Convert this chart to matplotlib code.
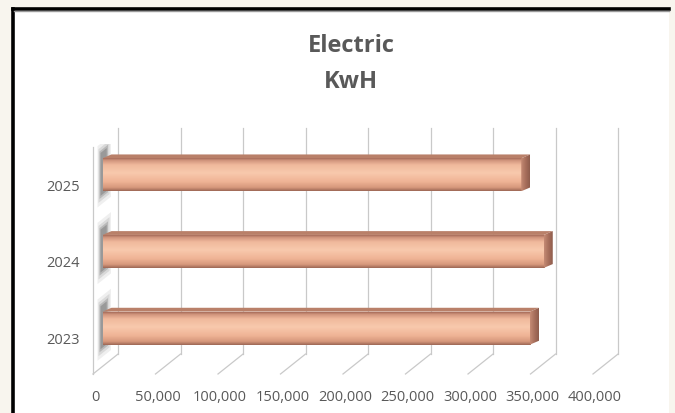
import numpy as np
import matplotlib.pyplot as plt
from matplotlib.colors import LinearSegmentedColormap
from matplotlib.patches import Polygon, Rectangle
from matplotlib.lines import Line2D

plt.rcParams['font.family'] = ['Open Sans', 'DejaVu Sans']

# data
years = ['2023', '2024', '2025']
kwh = [342000, 353000, 335000]
ticks = [0, 50000, 100000, 150000, 200000, 250000, 300000, 350000, 400000]
tick_labels = ['0', '50,000', '100,000', '150,000', '200,000', '250,000',
               '300,000', '350,000', '400,000']

W, H = 675, 414
fig = plt.figure(figsize=(W / 100, H / 100), dpi=100)
fig.patch.set_facecolor('#f8f5ee')


def frac(x, y):
    # pixel position (from top-left) -> figure fraction
    return x / W, 1 - y / H


# white chart panel with black frame on top and left
fig.patches.append(Rectangle(frac(12, 414), (669 - 12) / W, (414 - 10) / H,
                             transform=fig.transFigure, facecolor='white',
                             edgecolor='none', zorder=-5))
x0f, y0f = frac(12.5, 414)
x1f, y1f = frac(669, 9.5)
fig.add_artist(Line2D([x0f, x0f], [y0f, y1f], lw=2.6, color='black'))
fig.add_artist(Line2D([x0f, x1f], [y1f, y1f], lw=2.6, color='black'))
fig.add_artist(Line2D([frac(14, 0)[0], x1f], [frac(0, 11.5)[1]] * 2, lw=1,
                      color='#9a9a9a'))

ax = fig.add_axes([93 / W, 1 - 375 / H, 500 / W, 230 / H])
ax.set_zorder(2)
ax.set_xlim(0, 400000)
ax.set_ylim(-0.5, 2.5)
ax.axis('off')

# depth vector of the 3D box (in data units)
DX, DY = 20000, 0.26
grid = '#c9c9c9'

# back wall gridlines and floor lines
for t in ticks:
    ax.plot([t + DX, t + DX], [-0.5 + DY, 2.71], color=grid, lw=0.9,
            clip_on=False, zorder=1)
    ax.plot([t, t + DX], [-0.5, -0.5 + DY], color=grid, lw=0.9,
            clip_on=False, zorder=1)
# side wall front edge
ax.plot([0, 0], [-0.5, 2.46], color=grid, lw=0.9, clip_on=False, zorder=1)

# bar face shading, top to bottom
face_cmap = LinearSegmentedColormap.from_list('face', [
    (0.0, '#a86e5c'), (0.06, '#cf937b'), (0.2, '#f0b99c'), (0.45, '#f8c9ad'),
    (0.72, '#efb395'), (0.9, '#d7987c'), (1.0, '#9e6856')])
cap_cmap = LinearSegmentedColormap.from_list('cap', ['#c48a74', '#a86f5c',
                                                      '#8e5c4c'])
grad = np.linspace(0, 1, 64).reshape(-1, 1)

f = 0.38
bx, by = f * DX, f * DY
cx, cy = 7200, 0.05
bh = 0.43

for i, v in enumerate(kwh):
    y0 = i - bh / 2 + by
    y1 = i + bh / 2 + by
    xa, xb = bx, bx + v

    # soft shadow on the side wall, darkest near the bar end
    for d0, d1, ext, a in [(0.18, 0.72, 0.16, 0.08), (0.22, 0.66, 0.11, 0.12),
                           (0.26, 0.6, 0.07, 0.2), (0.3, 0.55, 0.04, 0.25)]:
        lo, hi = i - bh / 2 - ext, i + bh / 2 + 0.05 + ext
        ax.add_patch(Polygon([(d0 * DX, lo + d0 * DY), (d1 * DX, lo + d1 * DY),
                              (d1 * DX, hi + d1 * DY), (d0 * DX, hi + d0 * DY)],
                             closed=True, facecolor='#3a3a3a', alpha=a,
                             edgecolor='none', zorder=2))

    # top face
    ax.add_patch(Polygon([(xa, y1), (xb, y1), (xb + cx, y1 + cy),
                          (xa + cx, y1 + cy)], closed=True,
                         facecolor='#b98069', edgecolor='none', zorder=3))
    # front face
    ax.imshow(grad, cmap=face_cmap, extent=(xa, xb, y0, y1), aspect='auto',
              origin='upper', interpolation='bilinear', zorder=4)
    # end cap, shaded left to right
    cap = Polygon([(xb, y0), (xb, y1), (xb + cx, y1 + cy), (xb + cx, y0 + cy)],
                  closed=True, facecolor='none', edgecolor='none')
    ax.add_patch(cap)
    im = ax.imshow(grad.T, cmap=cap_cmap, extent=(xb, xb + cx, y0, y1 + cy),
                   aspect='auto', interpolation='bilinear', zorder=4)
    im.set_clip_path(cap)

    ax.text(-10400, i - 0.05, years[i], ha='right', va='center',
            fontsize=10.5, color='#595959')

ax.set_xlim(0, 400000)
ax.set_ylim(-0.5, 2.5)

for t, lab in zip(ticks, tick_labels):
    ax.text(t + 1600, -0.8, lab, ha='center', va='center', fontsize=10.5,
            color='#595959', clip_on=False)

fig.text(351 / W, 1 - 46 / H, 'Electric', ha='center', va='center',
         fontsize=17, fontweight='bold', color='#595959')
fig.text(351 / W, 1 - 82 / H, 'KwH', ha='center', va='center',
         fontsize=17, fontweight='bold', color='#595959')

fig.savefig('out.png', dpi=100, facecolor=fig.get_facecolor())
